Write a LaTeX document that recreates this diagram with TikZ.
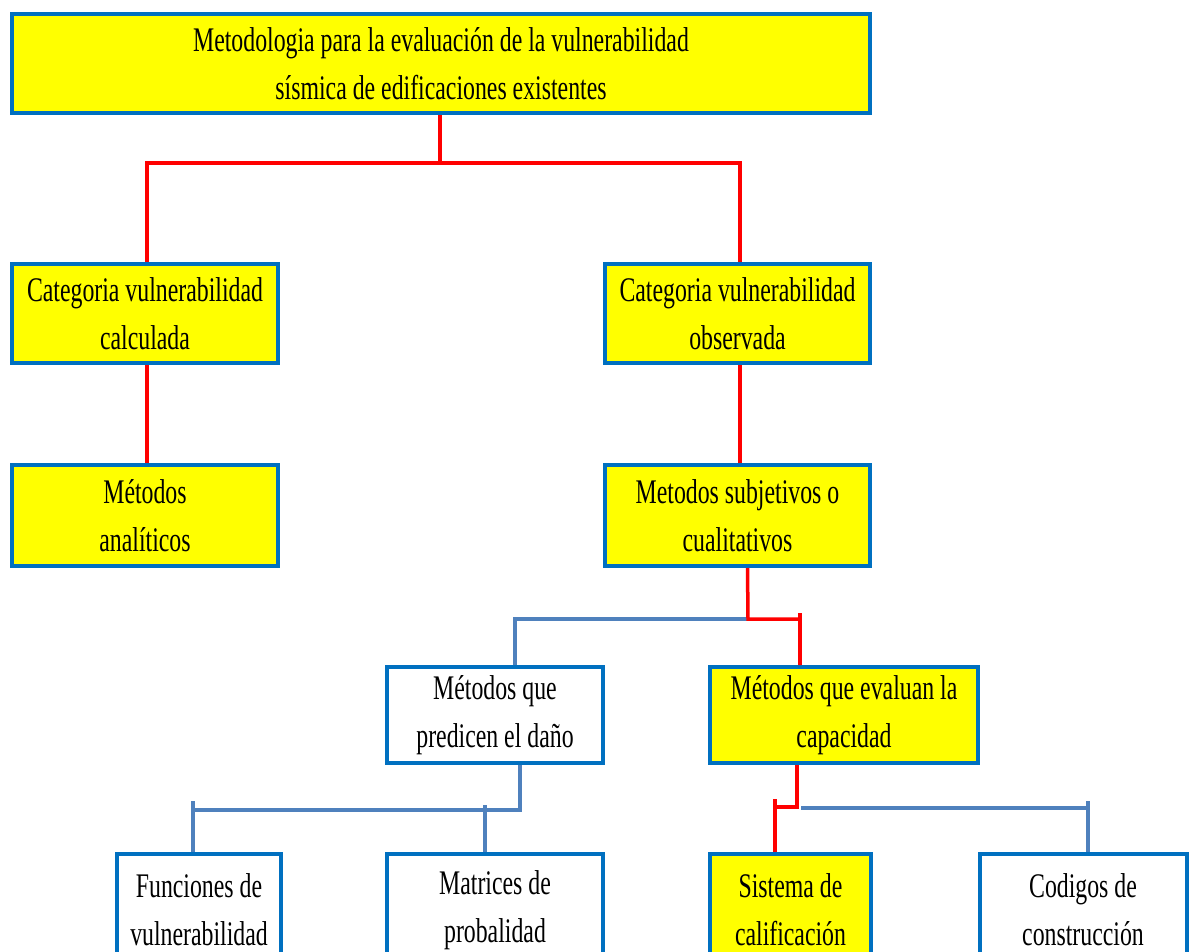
\documentclass[tikz,border=0pt]{standalone}
\usepackage{fontspec}
\setmainfont{Liberation Serif}[FakeStretch=0.69]
\usepackage{tikz}
\definecolor{boxblue}{HTML}{0070C0}
\definecolor{lineblue}{HTML}{4F81BD}
\definecolor{boxyellow}{HTML}{FFFF00}
\definecolor{linered}{HTML}{FF0000}
\tikzset{
  caja/.style={draw=boxblue, line width=4pt, inner sep=0pt, align=center,
    font=\fontsize{34.5}{48}\selectfont},
  amarilla/.style={caja, fill=boxyellow},
  blanca/.style={caja, fill=white},
  rojo/.style={draw=linered, line width=3.5pt},
  azul/.style={draw=lineblue, line width=3.5pt}
}

\begin{document}
\begin{tikzpicture}[x=1pt, y=-1pt]

\useasboundingbox[fill=white] (0,0) rectangle (1190,952);

% cajas
\node[amarilla, minimum width=858pt, minimum height=99pt] (top) at (441,63.5)
  {Metodologia para la evaluación de la vulnerabilidad\\sísmica de edificaciones existentes};

\node[amarilla, minimum width=266pt, minimum height=99pt] (calc) at (145,313.5)
  {Categoria vulnerabilidad\\calculada};
\node[amarilla, minimum width=265pt, minimum height=99pt] (obs) at (737.5,313.5)
  {Categoria vulnerabilidad\\observada};

\node[amarilla, minimum width=266pt, minimum height=101pt] (anal) at (145,515.5)
  {Métodos\\analíticos};
\node[amarilla, minimum width=265pt, minimum height=101pt] (subj) at (737.5,515.5)
  {Metodos subjetivos o\\cualitativos};

\node[blanca, minimum width=216pt, minimum height=96pt] (pred) at (495,715)
  {Métodos que\\predicen el daño};
\node[amarilla, minimum width=268pt, minimum height=96pt] (eval) at (844,715)
  {Métodos que evaluan la\\capacidad};

\node[blanca, minimum width=164pt, minimum height=112pt] (func) at (199,910)
  {Funciones de\\vulnerabilidad};
\node[blanca, minimum width=216pt, minimum height=112pt] (matr) at (495,910)
  {Matrices de\\probalidad};
\node[amarilla, minimum width=161pt, minimum height=112pt] (sist) at (790.5,910)
  {Sistema de\\calificación};
\node[blanca, minimum width=207pt, minimum height=112pt] (cod) at (1083,910)
  {Codigos de\\construcción};

% conectores
\coordinate (j1) at (440,163);
\draw[rojo] (top.south -| j1) -- (j1);
\draw[rojo] ([xshift=2pt]calc.north) |- (j1) -| ([xshift=2.5pt]obs.north);

\draw[rojo] ([xshift=2pt]calc.south) -- ([xshift=2pt]anal.north);
\draw[rojo] ([xshift=2.5pt]obs.south) -- ([xshift=2.5pt]subj.north);

\coordinate (j2) at (748,619);
\draw[azul] ([xshift=20pt]pred.north) |- (j2);
\draw[rojo] ([xshift=10pt]subj.south) -- (j2) -| ([xshift=-44pt]eval.north);
\draw[rojo] ([xshift=-44pt]eval.north) -- ++(0,-52);

\coordinate (j3) at (520,810);
\draw[azul] ([xshift=25pt]pred.south) -- (j3) -- (193,810);
\draw[azul] ([xshift=-6pt]func.north) -- ++(0,-51);
\draw[azul] ([xshift=-10pt]matr.north) -- ++(0,-47);

\coordinate (j4) at (797,807);
\draw[rojo] ([xshift=-47pt]eval.south) -- (j4) -- (775,807);
\draw[rojo] ([xshift=-15.5pt]sist.north) -- ++(0,-53);
\draw[azul] (801,808) -| ([xshift=5pt]cod.north);
\draw[azul] ([xshift=5pt]cod.north) -- ++(0,-51);

\end{tikzpicture}
\end{document}
